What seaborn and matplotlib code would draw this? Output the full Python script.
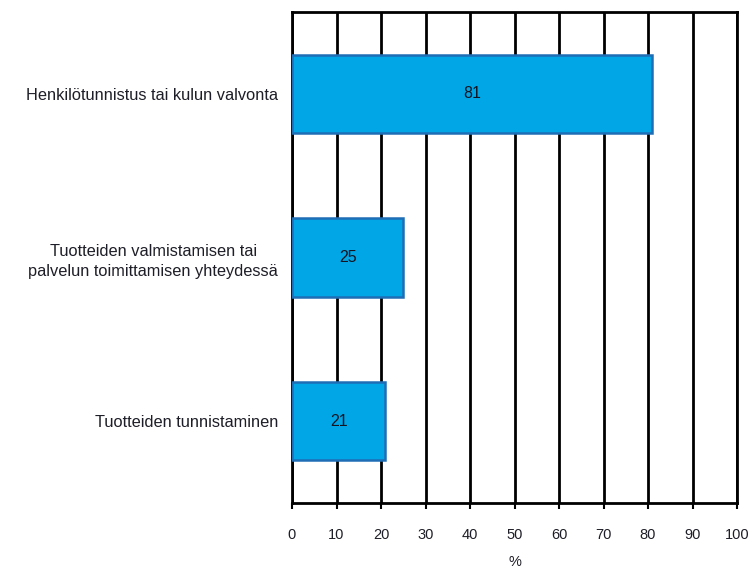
import matplotlib
matplotlib.use("Agg")
import matplotlib.pyplot as plt
import seaborn as sns
import pandas as pd

categories = ["Henkilötunnistus tai kulun valvonta",
              "Tuotteiden valmistamisen tai\npalvelun toimittamisen yhteydessä",
              "Tuotteiden tunnistaminen"]
values = [81, 25, 21]
xticks = list(range(0, 101, 10))

sns.set_theme(style="white")
plt.rcParams['font.family'] = ['Liberation Sans', 'DejaVu Sans']

df = pd.DataFrame({"cat": categories, "val": values})

fig = plt.figure(figsize=(7.53, 5.68), dpi=100)
ax = fig.add_axes([292/753, 1-503/568, (737-292)/753, (503-12)/568])

sns.barplot(data=df, y="cat", x="val", orient="h", color="#00A6E6",
            saturation=1, width=0.48, edgecolor="#1F6DB5", linewidth=1.8,
            ax=ax, zorder=3)

ax.set_xlim(0, 100)
ax.set_ylim(2.5, -0.5)
ax.set_xticks(xticks)
ax.set_xticklabels([str(t) for t in xticks], fontsize=10.5, color="#1e1e28")
for t in xticks:
    ax.axvline(t, color="black", linewidth=2.0, zorder=1)
ax.tick_params(axis="x", length=4, width=1.5, color="black", pad=14, bottom=True)
ax.tick_params(axis="y", length=0, pad=10, labelsize=11.8, labelcolor="#1e1e28")
for lbl in ax.get_yticklabels():
    lbl.set_horizontalalignment("right")
    lbl.set_multialignment("center")
    lbl.set_linespacing(1.45)
for s in ax.spines.values():
    s.set_color("black")
    s.set_linewidth(2.0)
ax.set_ylabel("")
ax.set_xlabel("%", fontsize=10.5, color="#1e1e28", labelpad=9)

for i, v in enumerate(values):
    ax.text(v / 2, i, str(v), ha="center", va="center", fontsize=11.5,
            color="#141420", zorder=4)

fig.savefig("out.png", dpi=100)
